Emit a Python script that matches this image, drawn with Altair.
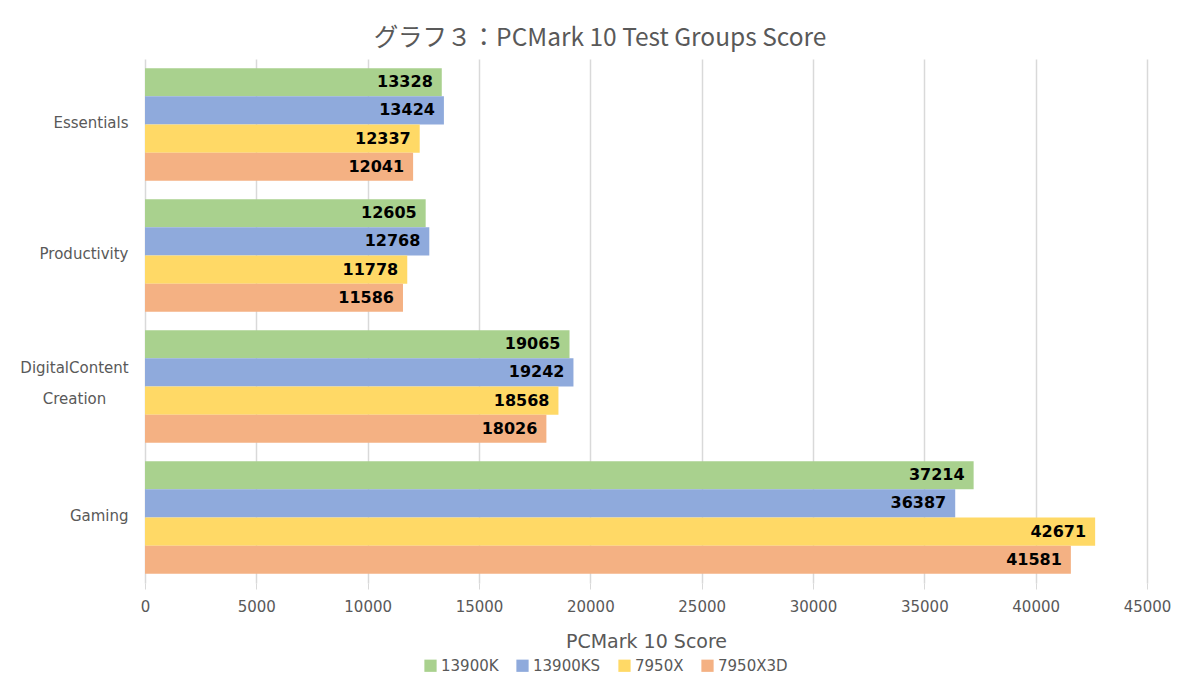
import altair as alt
import pandas as pd

categories = ["Essentials", "Productivity", "DigitalContent Creation", "Gaming"]
series = ["13900K", "13900KS", "7950X", "7950X3D"]
colors = ["#A9D18E", "#8FAADC", "#FFD966", "#F4B183"]
values = {
    "13900K": [13328, 12605, 19065, 37214],
    "13900KS": [13424, 12768, 19242, 36387],
    "7950X": [12337, 11778, 18568, 42671],
    "7950X3D": [12041, 11586, 18026, 41581],
}
x_ticks = list(range(0, 45001, 5000))

rows = []
for s in series:
    for c, v in zip(categories, values[s]):
        rows.append({"category": c, "series": s, "value": v})
df = pd.DataFrame(rows)

gray = "#595959"
font = "DejaVu Sans"
multi = "datum.value == 'DigitalContent Creation'"

base = alt.Chart(df).encode(
    y=alt.Y(
        "category:N",
        sort=categories,
        title=None,
        scale=alt.Scale(paddingInner=0.14, paddingOuter=0.07),
        axis=alt.Axis(
            labelExpr="datum.label == 'DigitalContent Creation' ? ['DigitalContent', 'Creation'] : datum.label",
            labelFontSize=15,
            labelColor=gray,
            labelFont=font,
            labelLineHeight=31,
            labelPadding={"condition": {"test": multi, "value": 71}, "value": 17},
            labelAlign={"condition": {"test": multi, "value": "center"}, "value": "right"},
            labelOffset={"condition": {"test": multi, "value": -19}, "value": -2},
            ticks=False,
            domain=False,
            minExtent=130,
            maxExtent=130,
        ),
    ),
    yOffset=alt.YOffset("series:N", sort=series, scale=alt.Scale(paddingInner=0, paddingOuter=0)),
)

x_enc = alt.X(
    "value:Q",
    title="PCMark 10 Score",
    scale=alt.Scale(domain=[0, 45000], nice=False),
    axis=alt.Axis(
        values=x_ticks,
        format="d",
        labelFlush=False,
        labelFontSize=15,
        labelColor=gray,
        labelFont=font,
        labelPadding=10,
        tickSize=6,
        tickColor="#D9D9D9",
        gridColor="#D9D9D9",
        gridWidth=1.5,
        domain=False,
        titleFontSize=19,
        titleFont=font,
        titleFontWeight="normal",
        titleColor=gray,
        titlePadding=18,
    ),
)

bars = base.mark_bar().encode(
    x=x_enc,
    color=alt.Color(
        "series:N",
        sort=series,
        scale=alt.Scale(domain=series, range=colors),
        legend=alt.Legend(
            title=None,
            orient="none",
            legendX=278,
            legendY=599,
            direction="horizontal",
            symbolType="square",
            symbolSize=150,
            symbolStrokeWidth=0,
            labelOffset=3,
            labelFontSize=15,
            labelColor=gray,
            labelFont=font,
            columnPadding=16,
        ),
    ),
)

labels = base.mark_text(
    align="right", baseline="middle", dx=-9, fontSize=16, fontWeight="bold", font=font, color="black"
).encode(x=alt.X("value:Q"), text=alt.Text("value:Q", format="d"))

chart = (
    alt.layer(bars, labels)
    .properties(
        width=1002,
        height=524,
        padding={"left": 7, "top": 17, "right": 20, "bottom": 5},
        title=alt.TitleParams(
            "グラフ３：PCMark 10 Test Groups Score",
            fontSize=24.5,
            font="Noto Sans CJK JP",
            fontWeight="normal",
            color=gray,
            anchor="middle",
            offset=8,
            dx=-46,
        ),
    )
    .configure_view(stroke=None)
)

chart.save("out.html", embed_options={"renderer": "svg", "actions": False})
